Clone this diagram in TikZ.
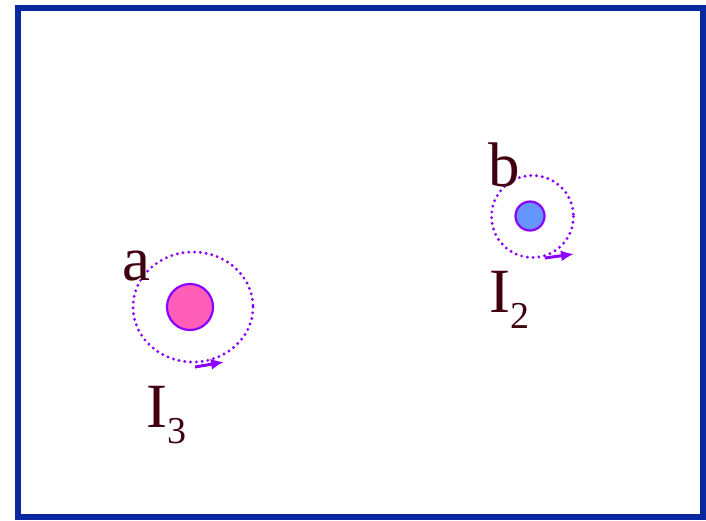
\documentclass[tikz,border=0pt]{standalone}
\usepackage{fontspec}
\setmainfont{Liberation Serif}
\usetikzlibrary{arrows.meta}
\definecolor{frameblue}{RGB}{10,40,160}
\definecolor{wirepink}{RGB}{255,95,185}
\definecolor{wireblue}{RGB}{100,150,255}
\definecolor{rimpurple}{RGB}{140,0,255}
\definecolor{labeldark}{RGB}{64,0,16}
\tikzset{
  wire/.style={draw=rimpurple, line width=2.2pt},
  fieldline/.style={draw=rimpurple, line width=3.2pt, dash pattern=on 0pt off 5.8pt, line cap=round},
  flowarrow/.style={draw=rimpurple, line width=3pt, -{Latex[length=13pt,width=11pt]}},
  lbl/.style={text=labeldark, inner sep=0pt, anchor=base west, font=\fontsize{63}{63}\selectfont},
}
\newcommand{\subidx}[1]{\raisebox{-16pt}{\fontsize{38}{38}\selectfont #1}}
\begin{document}
\begin{tikzpicture}[x=1pt,y=-1pt]
\useasboundingbox (0,0) rectangle (706,520);
\draw[frameblue, line width=6pt] (18,8) rectangle (703,517);
% wire a
\node[wire, fill=wirepink, circle, minimum size=46pt, inner sep=0pt] (wa) at (190,307) {};
\draw[fieldline] (193,307) ellipse [x radius=60, y radius=55];
\coordinate (a1) at (195,367);
\coordinate (a2) at (224,362);
\draw[flowarrow] (a1) -- (a2);
\node[lbl] (la) at (122,280) {a};
\node[lbl] (li3) at (146,427) {I\subidx{3}};
% wire b
\node[wire, fill=wireblue, circle, minimum size=29pt, inner sep=0pt] (wb) at (530,216) {};
\draw[fieldline] (532.5,216.5) circle [radius=41];
\coordinate (b1) at (545,258);
\coordinate (b2) at (574,254);
\draw[flowarrow] (b1) -- (b2);
\node[lbl] (lb) at (488,186) {b};
\node[lbl] (li2) at (489,312) {I\subidx{2}};
\end{tikzpicture}
\end{document}
